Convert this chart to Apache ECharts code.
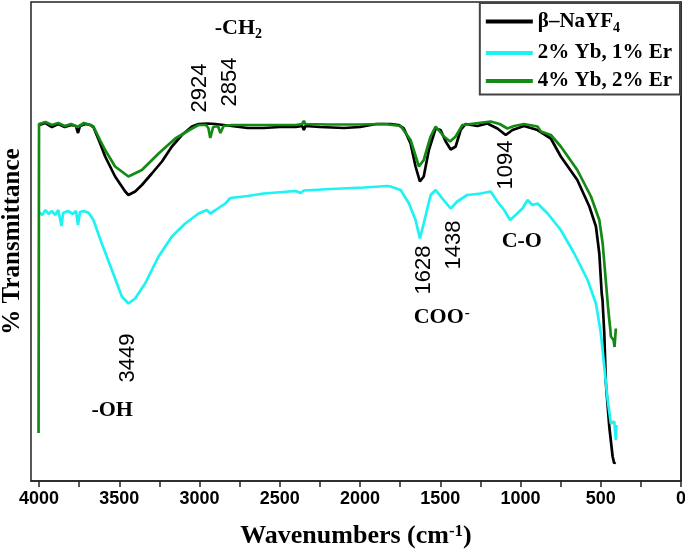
<!DOCTYPE html>
<html>
<head>
<meta charset="utf-8">
<script src="https://cdn.jsdelivr.net/npm/echarts@6/dist/echarts.min.js"></script>
<style>html,body{margin:0;padding:0;background:#fff}#c{width:685px;height:558px}</style>
</head>
<body>
<div id="c"></div>
<script>
// ---- data ----
const seriesNames = ['β–NaYF4', '2% Yb, 1% Er', '4% Yb, 2% Er'];
const tickLabels = [0, 500, 1000, 1500, 2000, 2500, 3000, 3500, 4000];
const tickMarks = [0,250,500,750,1000,1250,1500,1750,2000,2250,2500,2750,3000,3250,3500,3750,4000];

const blackWn = [4000,3960,3920,3880,3840,3800,3770,3757,3745,3710,3680,3661,3620,3588,3526,3463,3443,3401,3359,3297,3234,3172,3110,3047,3006,2950,2900,2800,2700,2600,2500,2400,2360,2350,2340,2250,2100,2000,1900,1809,1760,1727,1685,1654,1627,1603,1571,1529,1498,1466,1435,1404,1373,1342,1269,1206,1144,1092,1050,978,894,811,749,646,571,530,509,494,489,478,468,447,426,416,410];
const blackT  = [71.2,71.6,70.8,71.4,70.8,71.2,71.0,69.6,71.0,71.4,71.2,70.8,67.6,64.9,60.9,57.9,57.2,57.9,59.2,61.5,63.9,66.9,69.2,70.9,71.4,71.5,71.4,71.0,70.6,70.6,70.8,70.8,71.0,70.2,71.0,70.8,70.6,70.8,71.4,71.4,71.2,70.5,67.5,62.9,59.9,60.9,66.2,70.5,70.2,67.9,66.3,66.9,70.2,71.4,71.0,71.5,70.5,69.2,70.2,71.0,70.2,68.5,64.9,60.2,54.9,50.9,45.5,37.5,36.2,29.5,19.5,10.9,4.9,3.5,3.8];

const cyanWn = [4000,3980,3960,3940,3920,3900,3880,3860,3850,3820,3790,3770,3757,3745,3720,3690,3661,3609,3546,3484,3443,3401,3339,3255,3172,3089,3006,2954,2933,2900,2839,2808,2700,2600,2400,2371,2350,2184,1976,1830,1809,1747,1695,1654,1627,1603,1560,1529,1487,1435,1394,1332,1248,1186,1144,1102,1065,1030,988,956,926,894,831,749,665,582,530,499,478,457,437,416,410,406,403];
const cyanT  = [53.8,53.2,54.2,53.4,54.0,53.2,54.2,51.0,53.6,54.0,53.4,54.0,51.2,53.8,54.0,53.6,52.2,47.5,42.2,36.9,35.5,36.5,39.5,44.9,48.9,51.5,53.5,54.2,53.5,54.2,55.5,56.6,57.0,57.5,58.0,57.6,58.1,58.4,58.7,59.0,58.9,58.2,55.5,52.2,48.5,51.5,57.2,58.2,56.5,54.5,55.9,57.2,57.5,57.9,55.9,54.2,52.2,53.2,54.5,56.2,55.2,55.5,53.5,50.2,45.5,40.2,35.5,29.5,22.9,16.2,11.5,11.9,9.8,8.2,11.2];

const greenWn = [4003,4000,3960,3920,3880,3840,3800,3760,3720,3680,3661,3620,3588,3526,3443,3359,3255,3151,3047,3006,2960,2945,2933,2915,2885,2870,2850,2800,2600,2400,2360,2350,2340,2200,2000,1850,1747,1685,1633,1603,1560,1529,1477,1439,1404,1362,1186,1130,1082,1040,978,894,873,811,749,646,561,509,488,467,453,440,437,420,414,410,406];
const greenT  = [9.6,71.4,71.8,71.2,71.6,71.0,71.4,70.8,71.6,71.2,70.9,68.2,66.2,62.9,60.9,62.2,65.5,68.5,70.5,71.2,71.2,70.6,68.6,70.8,71.0,69.6,71.0,71.2,71.2,71.2,71.4,72.0,71.4,71.3,71.3,71.4,71.0,68.2,62.9,64.2,68.9,70.9,68.9,67.9,68.9,71.2,71.9,71.4,70.5,71.0,71.4,70.9,69.9,69.2,66.9,62.2,56.9,52.2,47.5,39.5,34.2,30.2,28.9,28.2,26.8,27.2,30.5];

// annotation texts (data coordinates of their centres)
const annText = ['-CH2', '2924', '2854', '1094', '1628', '1438', '3449', '-OH', 'COO-', 'C-O'];
const annWn   = [2758, 2995, 2808, 1092, 1604, 1417, 3445, 3544, 1491, 992];
const annT    = [90.6, 78.6, 79.8, 63.2, 42.2, 47.2, 24.6, 14.2, 32.8, 48.0];

// ---- chart ----
const zip = (a, b) => a.map((x, i) => [x, b[i]]);
const colors = ['#000000', '#1ff2f2', '#138a13'];
const serif = '"Liberation Serif", "Times New Roman", serif';
const sans = '"Liberation Sans", Arial, sans-serif';

function annLabel(t) {
  if (t === '-CH2') return { formatter: '{b|-CH}{sub|2}' };
  if (t === 'COO-') return { formatter: '{b|COO}{sup|-}' };
  if (/^\d+$/.test(t)) return { formatter: '{n|' + t + '}', rotate: 90 };
  return { formatter: '{b|' + t + '}' };
}
const annRich = {
  b: { fontFamily: serif, fontWeight: 'bold', fontSize: 22, color: '#000' },
  sub: { fontFamily: serif, fontWeight: 'bold', fontSize: 14, color: '#000', verticalAlign: 'top', padding: [12, 0, 0, 0] },
  sup: { fontFamily: serif, fontWeight: 'bold', fontSize: 15, color: '#000', verticalAlign: 'top', padding: [0, 0, 0, 1] },
  n: { fontFamily: sans, fontSize: 22, color: '#000' }
};

const chart = echarts.init(document.getElementById('c'), null, { renderer: 'canvas' });
const data = [zip(blackWn, blackT), zip(cyanWn, cyanT), zip(greenWn, greenT)];

chart.setOption({
  animation: false,
  backgroundColor: '#fff',
  grid: { left: 31, right: 4, top: 2, bottom: 77, show: true, borderColor: '#222', borderWidth: 1.5, outerBoundsMode: 'none', containLabel: false },
  legend: {
    data: seriesNames,
    orient: 'vertical',
    right: 5, top: 3,
    backgroundColor: '#fff',
    borderColor: '#444', borderWidth: 2,
    padding: [8, 8, 3, 6],
    itemGap: 7,
    itemWidth: 47, itemHeight: 4,
    icon: 'rect',
    formatter: n => n === 'β–NaYF4' ? '{t|β–NaYF}{sub|4}' : '{t|' + n + '}',
    textStyle: {
      rich: {
        t: { fontFamily: serif, fontWeight: 'bold', fontSize: 21, color: '#000' },
        sub: { fontFamily: serif, fontWeight: 'bold', fontSize: 14, color: '#000', verticalAlign: 'top', padding: [14, 0, 0, 0] }
      }
    }
  },
  xAxis: {
    type: 'value', inverse: true, min: 0, max: 4050,
    axisLine: { show: true, onZero: false, lineStyle: { color: '#222', width: 1.5 } },
    axisTick: { show: true, length: 6, customValues: tickMarks, lineStyle: { color: '#222', width: 1.5 } },
    axisLabel: { customValues: tickLabels, formatter: v => String(v), margin: 9, fontFamily: sans, fontWeight: 'bold', fontSize: 18, color: '#000' },
    splitLine: { show: false },
    name: 'Wavenumbers (cm{sup|-1})',
    nameLocation: 'middle', nameGap: 42,
    nameTextStyle: {
      fontFamily: serif, fontWeight: 'bold', fontSize: 26, color: '#000',
      rich: { sup: { fontFamily: serif, fontWeight: 'bold', fontSize: 17, color: '#000', verticalAlign: 'top' } }
    }
  },
  yAxis: {
    type: 'value', min: 0, max: 95.8,
    axisLine: { show: true, lineStyle: { color: '#222', width: 1.5 } },
    axisTick: { show: false }, axisLabel: { show: false }, splitLine: { show: false },
    name: '% Transmittance', nameLocation: 'middle', nameGap: 6, nameRotate: 90,
    nameTextStyle: { fontFamily: serif, fontWeight: 'bold', fontSize: 25, color: '#000' }
  },
  series: [0, 1, 2].map(i => ({
    name: seriesNames[i], type: 'line', data: data[i],
    showSymbol: false, symbol: 'none',
    lineStyle: { color: colors[i], width: 2.7 },
    itemStyle: { color: colors[i] },
    z: 2 + i,
    markPoint: i === 0 ? {
      symbol: 'circle', symbolSize: 1, itemStyle: { color: 'rgba(0,0,0,0)' },
      data: annText.map((t, k) => Object.assign({ coord: [annWn[k], annT[k]] }, {
        label: Object.assign({ show: true, position: 'inside', rich: annRich, color: '#000' }, annLabel(t))
      }))
    } : undefined
  }))
});
</script>
</body>
</html>
